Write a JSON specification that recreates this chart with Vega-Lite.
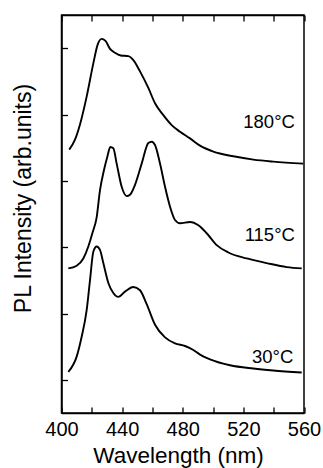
{
  "$schema": "https://vega.github.io/schema/vega-lite/v6.json",
  "autosize": "none",
  "width": 242.5,
  "height": 398,
  "padding": {"left": 61.5, "top": 15, "right": 19, "bottom": 55},
  "background": "white",
  "config": {
    "font": "Liberation Sans",
    "view": {"stroke": "black", "strokeWidth": 1.5},
    "axis": {"grid": false, "domainColor": "black", "domainWidth": 1.5, "tickColor": "black", "tickWidth": 1.3, "labelColor": "black", "titleColor": "black", "labelFont": "Liberation Sans", "titleFont": "Liberation Sans", "titleFontWeight": "normal"}
  },
  "datasets": {
    "spectra": [
      {"wl": 405.1, "pl": 3.97, "series": "180"},
      {"wl": 408.9, "pl": 4.12, "series": "180"},
      {"wl": 412.2, "pl": 4.35, "series": "180"},
      {"wl": 416.6, "pl": 4.77, "series": "180"},
      {"wl": 421.0, "pl": 5.27, "series": "180"},
      {"wl": 423.8, "pl": 5.55, "series": "180"},
      {"wl": 426.5, "pl": 5.64, "series": "180"},
      {"wl": 429.0, "pl": 5.61, "series": "180"},
      {"wl": 432.0, "pl": 5.49, "series": "180"},
      {"wl": 435.3, "pl": 5.43, "series": "180"},
      {"wl": 439.1, "pl": 5.39, "series": "180"},
      {"wl": 444.1, "pl": 5.38, "series": "180"},
      {"wl": 447.4, "pl": 5.32, "series": "180"},
      {"wl": 451.8, "pl": 5.15, "series": "180"},
      {"wl": 457.3, "pl": 4.90, "series": "180"},
      {"wl": 461.7, "pl": 4.67, "series": "180"},
      {"wl": 467.2, "pl": 4.49, "series": "180"},
      {"wl": 472.7, "pl": 4.34, "series": "180"},
      {"wl": 478.2, "pl": 4.24, "series": "180"},
      {"wl": 484.8, "pl": 4.14, "series": "180"},
      {"wl": 491.4, "pl": 4.03, "series": "180"},
      {"wl": 500.2, "pl": 3.94, "series": "180"},
      {"wl": 513.4, "pl": 3.87, "series": "180"},
      {"wl": 526.6, "pl": 3.82, "series": "180"},
      {"wl": 539.7, "pl": 3.79, "series": "180"},
      {"wl": 559.5, "pl": 3.76, "series": "180"},
      {"wl": 404.5, "pl": 2.18, "series": "115"},
      {"wl": 410.0, "pl": 2.22, "series": "115"},
      {"wl": 414.4, "pl": 2.33, "series": "115"},
      {"wl": 417.7, "pl": 2.51, "series": "115"},
      {"wl": 420.5, "pl": 2.72, "series": "115"},
      {"wl": 423.2, "pl": 2.95, "series": "115"},
      {"wl": 425.4, "pl": 3.36, "series": "115"},
      {"wl": 428.0, "pl": 3.66, "series": "115"},
      {"wl": 430.2, "pl": 3.86, "series": "115"},
      {"wl": 432.2, "pl": 4.01, "series": "115"},
      {"wl": 434.2, "pl": 3.99, "series": "115"},
      {"wl": 436.4, "pl": 3.76, "series": "115"},
      {"wl": 439.7, "pl": 3.41, "series": "115"},
      {"wl": 443.0, "pl": 3.27, "series": "115"},
      {"wl": 445.2, "pl": 3.29, "series": "115"},
      {"wl": 448.5, "pl": 3.44, "series": "115"},
      {"wl": 452.9, "pl": 3.76, "series": "115"},
      {"wl": 457.3, "pl": 4.07, "series": "115"},
      {"wl": 459.5, "pl": 4.09, "series": "115"},
      {"wl": 461.7, "pl": 4.04, "series": "115"},
      {"wl": 465.0, "pl": 3.76, "series": "115"},
      {"wl": 468.3, "pl": 3.41, "series": "115"},
      {"wl": 471.6, "pl": 3.11, "series": "115"},
      {"wl": 474.9, "pl": 2.91, "series": "115"},
      {"wl": 478.2, "pl": 2.86, "series": "115"},
      {"wl": 484.8, "pl": 2.88, "series": "115"},
      {"wl": 490.3, "pl": 2.83, "series": "115"},
      {"wl": 495.8, "pl": 2.71, "series": "115"},
      {"wl": 502.4, "pl": 2.53, "series": "115"},
      {"wl": 510.1, "pl": 2.42, "series": "115"},
      {"wl": 522.2, "pl": 2.33, "series": "115"},
      {"wl": 535.4, "pl": 2.26, "series": "115"},
      {"wl": 548.6, "pl": 2.20, "series": "115"},
      {"wl": 558.5, "pl": 2.18, "series": "115"},
      {"wl": 404.5, "pl": 0.62, "series": "30"},
      {"wl": 410.0, "pl": 0.85, "series": "30"},
      {"wl": 413.3, "pl": 1.15, "series": "30"},
      {"wl": 416.6, "pl": 1.55, "series": "30"},
      {"wl": 418.8, "pl": 2.00, "series": "30"},
      {"wl": 421.0, "pl": 2.43, "series": "30"},
      {"wl": 423.2, "pl": 2.51, "series": "30"},
      {"wl": 425.4, "pl": 2.46, "series": "30"},
      {"wl": 427.6, "pl": 2.26, "series": "30"},
      {"wl": 430.9, "pl": 1.96, "series": "30"},
      {"wl": 434.2, "pl": 1.81, "series": "30"},
      {"wl": 437.5, "pl": 1.75, "series": "30"},
      {"wl": 441.9, "pl": 1.83, "series": "30"},
      {"wl": 447.4, "pl": 1.90, "series": "30"},
      {"wl": 451.8, "pl": 1.85, "series": "30"},
      {"wl": 456.2, "pl": 1.64, "series": "30"},
      {"wl": 461.7, "pl": 1.33, "series": "30"},
      {"wl": 468.3, "pl": 1.14, "series": "30"},
      {"wl": 474.9, "pl": 1.05, "series": "30"},
      {"wl": 481.5, "pl": 1.01, "series": "30"},
      {"wl": 487.0, "pl": 0.95, "series": "30"},
      {"wl": 491.4, "pl": 0.88, "series": "30"},
      {"wl": 498.0, "pl": 0.81, "series": "30"},
      {"wl": 511.2, "pl": 0.72, "series": "30"},
      {"wl": 526.6, "pl": 0.67, "series": "30"},
      {"wl": 539.7, "pl": 0.64, "series": "30"},
      {"wl": 558.5, "pl": 0.61, "series": "30"}
    ],
    "labels": [
      {"wl": 554, "pl": 4.39, "text": "180°C"},
      {"wl": 554, "pl": 2.68, "text": "115°C"},
      {"wl": 553, "pl": 0.85, "text": "30°C"}
    ]
  },
  "layer": [
    {
      "data": {"name": "spectra"},
      "mark": {"type": "line", "color": "black", "strokeWidth": 1.9, "interpolate": "monotone"},
      "encoding": {
        "x": {
          "field": "wl", "type": "quantitative",
          "scale": {"domain": [400, 560], "nice": false, "zero": false},
          "axis": {
            "values": [400, 420, 440, 460, 480, 500, 520, 540, 560],
            "labelExpr": "datum.value % 40 == 0 ? datum.label : ''",
            "tickSize": -6,
            "labelPadding": 28.5,
            "labelBaseline": "alphabetic",
            "labelFontSize": 20,
            "labelFlush": false,
            "title": "Wavelength (nm)",
            "titleFontSize": 22.5,
            "titleBaseline": "alphabetic",
            "titleX": 116.5,
            "titleY": 49.5
          }
        },
        "y": {
          "field": "pl", "type": "quantitative",
          "scale": {"domain": [0, 6], "nice": false, "zero": false},
          "axis": {
            "values": [0.5, 1.5, 2.5, 3.5, 4.5, 5.5],
            "labels": false,
            "tickSize": -6,
            "title": "PL Intensity (arb.units)",
            "titleFontSize": 23,
            "titleX": -26,
            "titleY": 183
          }
        },
        "detail": {"field": "series"}
      }
    },
    {
      "data": {"name": "spectra"},
      "mark": {"type": "line", "opacity": 0},
      "encoding": {
        "x": {
          "field": "wl", "type": "quantitative",
          "axis": {
            "orient": "top",
            "values": [400, 420, 440, 460, 480, 500, 520, 540, 560],
            "labels": false,
            "tickSize": -6,
            "title": null
          }
        },
        "y": {"field": "pl", "type": "quantitative"},
        "detail": {"field": "series"}
      }
    },
    {
      "data": {"name": "labels"},
      "mark": {"type": "text", "align": "right", "baseline": "middle", "fontSize": 18.5, "font": "Liberation Sans", "color": "black"},
      "encoding": {
        "x": {"field": "wl", "type": "quantitative", "axis": null},
        "y": {"field": "pl", "type": "quantitative"},
        "text": {"field": "text"}
      }
    }
  ],
  "resolve": {"axis": {"x": "independent"}}
}
